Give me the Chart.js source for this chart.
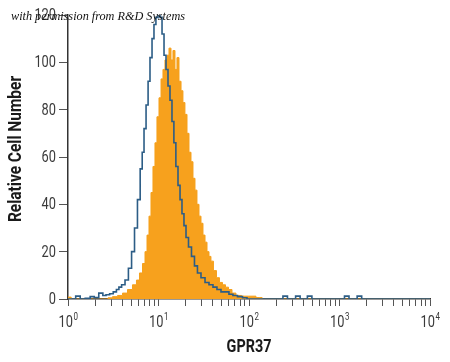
<!DOCTYPE html>
<html>
<head>
<meta charset="utf-8">
<script src="https://cdn.jsdelivr.net/npm/chart.js@4.4.1/dist/chart.umd.min.js"></script>
<style>
  html, body { margin: 0; padding: 0; background: #fff; }
</style>
</head>
<body>
<canvas id="histChart" width="450" height="362"></canvas>
<script>
// --- DATA (x = log10 of GPR37 intensity, y = relative cell number) ---
const isotypeLog = [0.00, 0.06, 0.11, 0.16, 0.22, 0.27, 0.31, 0.37, 0.40, 0.44, 0.48, 0.52, 0.55, 0.575, 0.61, 0.65, 0.685, 0.72, 0.75, 0.785, 0.81, 0.83, 0.85, 0.875, 0.895, 0.917, 0.94, 0.96, 0.983, 1.006, 1.028, 1.05, 1.072, 1.094, 1.116, 1.138, 1.16, 1.18, 1.204, 1.227, 1.249, 1.27, 1.293, 1.315, 1.348, 1.381, 1.414, 1.447, 1.492, 1.536, 1.58, 1.624, 1.668, 1.713, 1.757, 1.80, 1.845, 1.90, 1.956, 2.00, 2.35, 2.40, 2.45, 2.49, 2.54, 2.59, 2.62, 2.67, 2.72, 3.03, 3.08, 3.13, 3.17, 3.22, 3.27, 4.00];
const isotypeCount = [0, 0, 1.2, 0, 0.3, 1.0, 0.6, 2.5, 1.5, 1.8, 2.2, 3.0, 4.0, 5, 6, 8, 13, 20, 30, 42, 55, 62, 72, 82, 92, 102, 110, 116, 119, 121, 119, 112, 103, 97, 90, 84, 75, 66, 56, 48, 42, 36, 31, 26, 22, 18, 14, 11, 9, 7, 6, 5, 4, 3, 3, 2, 1.5, 1, 0.5, 0, 0, 1.2, 0, 0, 1.2, 0, 0, 1.2, 0, 0, 1.2, 0, 0, 1.2, 0, 0];

const gpr37Log = [0.00, 0.02, 0.05, 0.42, 0.464, 0.52, 0.575, 0.63, 0.685, 0.74, 0.773, 0.807, 0.84, 0.862, 0.884, 0.906, 0.928, 0.95, 0.972, 0.994, 1.017, 1.039, 1.06, 1.083, 1.105, 1.127, 1.149, 1.171, 1.193, 1.215, 1.238, 1.26, 1.28, 1.304, 1.326, 1.348, 1.37, 1.392, 1.414, 1.436, 1.459, 1.48, 1.503, 1.525, 1.547, 1.569, 1.59, 1.624, 1.657, 1.69, 1.724, 1.757, 1.79, 1.834, 1.878, 1.956, 2.033, 2.12, 2.17, 4.00];
const gpr37Count = [0.8, 0.8, 0, 0, 0.5, 1, 1.5, 2.5, 4, 6, 8, 11, 15, 20, 27, 35, 45, 56, 66, 77, 85, 93, 97, 101, 103, 106, 101, 105, 97, 102, 92, 88, 83, 78, 70, 62, 58, 51, 46, 40, 35, 32, 27, 24, 20, 18, 16, 12, 9, 7, 6, 5, 4, 2.5, 1.5, 1.2, 1.2, 0.6, 0, 0];

const yTicks = [0, 20, 40, 60, 80, 100, 120];
const decades = [0, 1, 2, 3, 4];

const FONT = 'Roboto, "DejaVu Sans", sans-serif';
const SQUEEZE = 0.8;   // horizontal squeeze to get a condensed look

function toPoints(xs, ys) {
    return xs.map((x, i) => ({ x: x, y: ys[i] }));
}

function squeezedText(ctx, text, x, y, align, sq) {
    ctx.save();
    ctx.translate(x, y);
    ctx.scale(sq || SQUEEZE, 1);
    ctx.textAlign = align;
    ctx.fillText(text, 0, 0);
    ctx.restore();
}

// tick labels, axis titles and credit line
const textPlugin = {
    id: 'texts',
    afterDraw(chart) {
        const ctx = chart.ctx;
        const xs = chart.scales.x, ys = chart.scales.y;
        ctx.save();
        ctx.fillStyle = '#3a3a3a';
        ctx.textBaseline = 'middle';
        ctx.font = '16px ' + FONT;
        yTicks.forEach(v => {
            squeezedText(ctx, String(v), 56, ys.getPixelForValue(v) + 1, 'right');
        });

        decades.forEach(d => {
            const px = xs.getPixelForValue(d);
            ctx.font = '16px ' + FONT;
            const w1 = ctx.measureText('10').width * SQUEEZE;
            ctx.font = '10px ' + FONT;
            const w2 = ctx.measureText(String(d)).width * SQUEEZE;
            const left = px - (w1 + w2) / 2;
            ctx.font = '16px ' + FONT;
            ctx.textBaseline = 'alphabetic';
            squeezedText(ctx, '10', left, 327, 'left');
            ctx.font = '10px ' + FONT;
            squeezedText(ctx, String(d), left + w1 + 0.5, 320, 'left');
        });

        ctx.fillStyle = '#1a1a1a';
        ctx.font = 'bold 18px ' + FONT;
        ctx.textBaseline = 'middle';
        squeezedText(ctx, 'GPR37', (chart.chartArea.left + chart.chartArea.right) / 2, 347, 'center');

        ctx.save();
        ctx.translate(16, 149);
        ctx.rotate(-Math.PI / 2);
        ctx.font = 'bold 18px ' + FONT;
        squeezedText(ctx, 'Relative Cell Number', 0, 0, 'center', 0.86);
        ctx.restore();

        ctx.fillStyle = '#111';
        ctx.font = 'italic 13px "Liberation Serif", "DejaVu Serif", serif';
        ctx.textBaseline = 'alphabetic';
        ctx.save();
        ctx.translate(11, 20);
        ctx.scale(0.94, 1);
        ctx.fillText('with permission from R&D Systems', 0, 0);
        ctx.restore();
        ctx.restore();
    }
};

const whiteBg = {
    id: 'whiteBg',
    beforeDraw(chart) {
        const ctx = chart.ctx;
        ctx.save();
        ctx.fillStyle = '#fff';
        ctx.fillRect(0, 0, chart.width, chart.height);
        ctx.restore();
    }
};

new Chart(document.getElementById('histChart'), {
    type: 'line',
    data: {
        datasets: [
            {
                label: 'Isotype',
                data: toPoints(isotypeLog, isotypeCount),
                stepped: 'middle',
                borderColor: '#2c5d86',
                borderWidth: 1.6,
                pointRadius: 0,
                fill: false
            },
            {
                label: 'GPR37',
                data: toPoints(gpr37Log, gpr37Count),
                stepped: 'middle',
                borderColor: '#f5a01c',
                borderWidth: 1,
                backgroundColor: '#f7a11d',
                pointRadius: 0,
                fill: 'origin'
            }
        ]
    },
    options: {
        responsive: false,
        animation: false,
        devicePixelRatio: 1,
        layout: { padding: { top: 15, right: 20, left: 0, bottom: 0 } },
        plugins: { legend: { display: false }, tooltip: { enabled: false } },
        scales: {
            x: {
                type: 'linear',
                min: 0,
                max: 4,
                afterFit: (s) => { s.height = 63; },
                afterBuildTicks: (s) => {
                    const t = [];
                    decades.forEach(d => {
                        if (d === 4) { t.push({ value: 4 }); return; }
                        for (let k = 1; k <= 9; k++) t.push({ value: d + Math.log10(k) });
                    });
                    s.ticks = t;
                },
                ticks: { display: false, autoSkip: false },
                grid: { drawOnChartArea: false, drawTicks: true, tickLength: 7, color: '#555', lineWidth: 1 },
                border: { display: true, color: '#333', width: 1.5 }
            },
            y: {
                min: 0,
                max: 120,
                afterFit: (s) => { s.width = 68; },
                afterBuildTicks: (s) => { s.ticks = yTicks.map(v => ({ value: v })); },
                ticks: { display: false },
                grid: { drawOnChartArea: false, drawTicks: true, tickLength: 9, color: '#555' },
                border: { display: true, color: '#333', width: 1.5 }
            }
        }
    },
    plugins: [whiteBg, textPlugin]
});
</script>
</body>
</html>
